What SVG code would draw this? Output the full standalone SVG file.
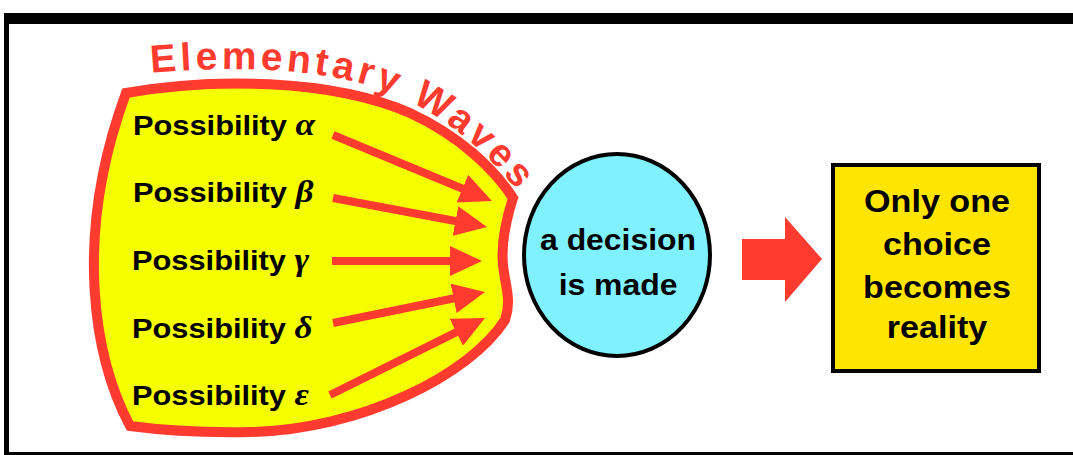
<svg xmlns="http://www.w3.org/2000/svg" width="1073" height="455" viewBox="0 0 1073 455">
<defs>
<style>
.t{font-family:"Liberation Sans",Arial,Helvetica,sans-serif;font-weight:bold;fill:#000}
.gr{font-family:"Liberation Serif","Times New Roman",serif;font-weight:bold;font-style:italic}
.red{fill:#FF3B2F}
.title{font-size:39px;letter-spacing:4px}
.arr{stroke:#FF3B2F;stroke-width:8;fill:none;marker-end:url(#head)}
</style>
<marker id="head" markerUnits="userSpaceOnUse" markerWidth="32" markerHeight="30" refX="12" refY="15" orient="auto" viewBox="0 0 32 30">
<path d="M0,0 L32,15 L0,30 Z" fill="#FF3B2F"/>
</marker>
<path id="titlePath" d="M 151,73 C 250,64 340,70 400,97 C 455,122 495,160 528,205"/>
</defs>
<rect width="1073" height="455" fill="#fff"/>
<g id="frame" fill="#000">
<rect x="4" y="13" width="1069" height="11"/>
<rect x="4" y="13" width="5" height="442"/>
<rect x="4" y="452" width="1069" height="3"/>
</g>
<g id="waves">
<path d="M126,93 C 210,78 330,78 410,113 C 460,136 495,170 513,198 C 506,220 501,245 503,265 C 505,285 512,300 505,320 C 470,375 360,430 250,432 C 200,433 160,430 130,426 C 95,360 72,240 126,93 Z" fill="#F5FF00" stroke="#FF3B2F" stroke-width="10" stroke-linejoin="miter"/>
<text class="t red title"><textPath href="#titlePath">Elementary</textPath></text>
<text class="t red title"><textPath href="#titlePath" startOffset="265">Waves</textPath></text>
</g>
<g id="poss-alpha"><text class="t" font-size="28" transform="translate(133,135) scale(1.1,1)">Possibility <tspan class="gr" font-size="32">α</tspan></text></g>
<g id="poss-beta"><text class="t" font-size="28" transform="translate(133,202) scale(1.1,1)">Possibility <tspan class="gr" font-size="32">β</tspan></text></g>
<g id="poss-gamma"><text class="t" font-size="28" transform="translate(132,270) scale(1.1,1)">Possibility <tspan class="gr" font-size="32">γ</tspan></text></g>
<g id="poss-delta"><text class="t" font-size="28" transform="translate(132,338) scale(1.1,1)">Possibility <tspan class="gr" font-size="32">δ</tspan></text></g>
<g id="poss-epsilon"><text class="t" font-size="28" transform="translate(132,405) scale(1.1,1)">Possibility <tspan class="gr" font-size="32">ε</tspan></text></g>
<g id="connectors">
<line class="arr" x1="333" y1="135" x2="473.5" y2="193.3"/>
<line class="arr" x1="333" y1="198" x2="467.3" y2="223.3"/>
<line class="arr" x1="332" y1="261" x2="462" y2="261"/>
<line class="arr" x1="333" y1="323" x2="465.4" y2="296"/>
<line class="arr" x1="330" y1="395" x2="467.1" y2="326.9"/>
<polygon class="red" points="742,239 785,239 785,217 822,259 785,302 785,280 742,280"/>
</g>
<g id="decision">
<ellipse cx="617" cy="255" rx="93" ry="101" fill="#80F2FF" stroke="#000" stroke-width="4"/>
<text class="t" font-size="29" text-anchor="middle" transform="translate(618,250) scale(1.1,1)">a decision</text>
<text class="t" font-size="29" text-anchor="middle" transform="translate(618,295) scale(1.1,1)">is made</text>
</g>
<g id="reality">
<rect x="833" y="165" width="206" height="206" fill="#FFE500" stroke="#000" stroke-width="4"/>
<text class="t" font-size="31" text-anchor="middle" transform="translate(937,212) scale(1.1,1)">Only one</text>
<text class="t" font-size="31" text-anchor="middle" transform="translate(937,255) scale(1.1,1)">choice</text>
<text class="t" font-size="31" text-anchor="middle" transform="translate(937,298) scale(1.1,1)">becomes</text>
<text class="t" font-size="31" text-anchor="middle" transform="translate(937,338) scale(1.1,1)">reality</text>
</g>
</svg>
